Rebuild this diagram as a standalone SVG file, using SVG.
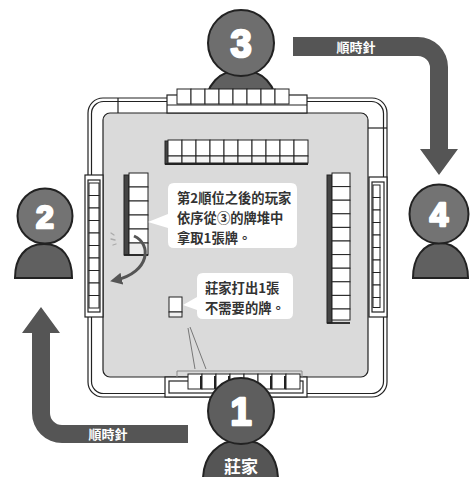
<svg xmlns="http://www.w3.org/2000/svg" width="471" height="477" viewBox="0 0 471 477">
  <defs>
    <style>
      .ln { stroke: #222; stroke-width: 1.2; }
      .tile { fill: #fff; stroke: #222; stroke-width: 1; }
      .edge { fill: #444; stroke: #222; stroke-width: 1; }
      .head { stroke: #222; stroke-width: 2; }
      .num { font-family: "Liberation Sans", Arial, sans-serif; font-weight: bold; fill: #fff; stroke: #fff; stroke-width: 2.5; stroke-linejoin: round; text-anchor: middle; }
      .cw { font-family: "Noto Sans CJK TC", "Noto Sans CJK SC", sans-serif; font-weight: bold; font-size: 13px; fill: #fff; text-anchor: middle; }
      .note { font-family: "Noto Sans CJK TC", "Noto Sans CJK SC", sans-serif; font-weight: bold; font-size: 13.3px; fill: #333; }
      .band { fill: #555; }
    </style>
    <marker id="ah" viewBox="0 0 10 10" refX="5" refY="5" markerWidth="4" markerHeight="4" orient="auto">
      <path d="M0,0 L10,5 L0,10 Z" fill="#555"/>
    </marker>
  </defs>

  <!-- clockwise arrows -->
  <g id="arrow-top">
    <path class="band" d="M293,37 H418 A30,30 0 0 1 448,67 V149 H458 L439,175 L420,149 H430 V68 A12,12 0 0 0 418,56 H293 Z"/>
    <text class="cw" x="356" y="52">順時針</text>
  </g>
  <g id="arrow-bottom">
    <path class="band" d="M41,307 L60,333 H50 V413 A12,12 0 0 0 62,425 H188 V443 H62 A30,30 0 0 1 32,413 V333 H22 Z"/>
    <text class="cw" x="108" y="439">順時針</text>
  </g>

  <!-- player 3 (behind the table) -->
  <g id="player3">
    <path class="head" fill="#606060" d="M205,110 C205,84 220,70 241,70 C262,70 277,84 277,110 Z"/>
    <circle class="head" cx="241" cy="43" r="33" fill="#6e6e6e"/>
    <text class="num" x="241" y="57" font-size="38">3</text>
  </g>

  <!-- table -->
  <g id="table">
    <rect x="88" y="98" width="299" height="299" rx="15" fill="#fff" class="ln" stroke-width="1.8"/>
    <rect x="91.5" y="101.5" width="292" height="292" rx="12" fill="none" class="ln" stroke-width="0.8"/>
    <rect x="103" y="113" width="265" height="264" rx="7" fill="#dadada" class="ln" stroke-width="1.6"/>
    <line x1="118" y1="98" x2="118" y2="113" class="ln"/>
    <line x1="368" y1="128" x2="387" y2="128" class="ln"/>
  </g>

  <!-- player racks -->
  <g id="rack-top">
    <rect x="167" y="95" width="140" height="18" fill="#fff" class="ln"/>
    <line x1="167" y1="105" x2="307" y2="105" class="ln" stroke-width="0.8"/>
    <rect class="tile" x="177" y="89" width="14" height="15"/>
    <rect class="tile" x="191" y="89" width="14" height="15"/>
    <rect class="tile" x="205" y="89" width="14" height="15"/>
    <rect class="tile" x="219" y="89" width="14" height="15"/>
    <rect class="tile" x="233" y="89" width="14" height="15"/>
    <rect class="tile" x="247" y="89" width="14" height="15"/>
    <rect class="tile" x="261" y="89" width="14" height="15"/>
    <rect class="tile" x="275" y="89" width="14" height="15"/>
  </g>

  <g id="rack-left">
    <rect x="85" y="175" width="18" height="142" fill="#fff" class="ln"/>
    <rect x="88" y="180" width="12" height="132" fill="#fff" class="ln" stroke-width="0.8"/>
    <g fill="#fff" stroke="#222" stroke-width="1">
      <rect x="89" y="183" width="10" height="12.5"/>
      <rect x="89" y="195.5" width="10" height="12.5"/>
      <rect x="89" y="208" width="10" height="12.5"/>
      <rect x="89" y="220.5" width="10" height="12.5"/>
      <rect x="89" y="233" width="10" height="12.5"/>
      <rect x="89" y="245.5" width="10" height="12.5"/>
      <rect x="89" y="258" width="10" height="12.5"/>
      <rect x="89" y="270.5" width="10" height="12.5"/>
      <rect x="89" y="283" width="10" height="12.5"/>
      <rect x="89" y="295.5" width="10" height="12.5"/>
    </g>
  </g>

  <g id="rack-right">
    <rect x="369" y="177" width="18" height="140" fill="#fff" class="ln"/>
    <rect x="372" y="182" width="12" height="130" fill="#fff" class="ln" stroke-width="0.8"/>
    <g fill="#fff" stroke="#222" stroke-width="1">
      <rect x="373" y="185" width="7" height="12.5"/>
      <rect x="373" y="197.5" width="7" height="12.5"/>
      <rect x="373" y="210" width="7" height="12.5"/>
      <rect x="373" y="222.5" width="7" height="12.5"/>
      <rect x="373" y="235" width="7" height="12.5"/>
      <rect x="373" y="247.5" width="7" height="12.5"/>
      <rect x="373" y="260" width="7" height="12.5"/>
      <rect x="373" y="272.5" width="7" height="12.5"/>
      <rect x="373" y="285" width="7" height="12.5"/>
      <rect x="373" y="297.5" width="7" height="10"/>
    </g>
  </g>

  <g id="rack-bottom">
    <rect x="165" y="377" width="142" height="20" fill="#fff" class="ln"/>
    <rect x="169" y="381" width="134" height="12" fill="#fff" class="ln" stroke-width="0.8"/>
    <g fill="#fff" stroke="#222" stroke-width="1">
      <rect x="188" y="374" width="14" height="15"/>
      <rect x="202" y="374" width="14" height="15"/>
      <rect x="216" y="374" width="14" height="15"/>
      <rect x="230" y="374" width="14" height="15"/>
      <rect x="244" y="374" width="14" height="15"/>
      <rect x="258" y="374" width="14" height="15"/>
      <rect x="272" y="374" width="14" height="15"/>
      <rect x="286" y="374" width="14" height="15"/>
    </g>
    <g stroke="#222" stroke-width="2">
      <line x1="201" y1="376" x2="201" y2="389"/>
      <line x1="215" y1="376" x2="215" y2="389"/>
      <line x1="229" y1="376" x2="229" y2="389"/>
      <line x1="271" y1="376" x2="271" y2="389"/>
      <line x1="285" y1="376" x2="285" y2="389"/>
    </g>
  </g>

  <!-- walls on the table -->
  <g id="wall-top">
    <rect x="165" y="141" width="4" height="23" class="edge"/>
    <g fill="#fff" stroke="#222" stroke-width="1">
      <rect x="168" y="140" width="14" height="16"/>
      <rect x="182" y="140" width="14" height="16"/>
      <rect x="196" y="140" width="14" height="16"/>
      <rect x="210" y="140" width="14" height="16"/>
      <rect x="224" y="140" width="14" height="16"/>
      <rect x="238" y="140" width="14" height="16"/>
      <rect x="252" y="140" width="14" height="16"/>
      <rect x="266" y="140" width="14" height="16"/>
      <rect x="280" y="140" width="14" height="16"/>
      <rect x="294" y="140" width="14" height="16"/>
    </g>
    <g fill="#f4f4f4" stroke="#222" stroke-width="1">
      <rect x="168" y="156" width="14" height="7"/>
      <rect x="182" y="156" width="14" height="7"/>
      <rect x="196" y="156" width="14" height="7"/>
      <rect x="210" y="156" width="14" height="7"/>
      <rect x="224" y="156" width="14" height="7"/>
      <rect x="238" y="156" width="14" height="7"/>
      <rect x="252" y="156" width="14" height="7"/>
      <rect x="266" y="156" width="14" height="7"/>
      <rect x="280" y="156" width="14" height="7"/>
      <rect x="294" y="156" width="14" height="7"/>
    </g>
    <line x1="165" y1="164" x2="308" y2="164" stroke="#222" stroke-width="2"/>
  </g>

  <g id="wall-left">
    <rect x="124" y="175" width="5" height="80" class="edge"/>
    <g fill="#fff" stroke="#222" stroke-width="1">
      <rect x="129" y="173" width="19" height="14"/>
      <rect x="129" y="187" width="19" height="14"/>
      <rect x="129" y="201" width="19" height="14"/>
      <rect x="129" y="215" width="19" height="14"/>
      <rect x="129" y="229" width="19" height="14"/>
      <rect x="129" y="243" width="19" height="12" fill="#ececec"/>
    </g>
    <line x1="124" y1="255" x2="148" y2="255" stroke="#222" stroke-width="1.8"/>
  </g>

  <g id="wall-right">
    <rect x="327" y="175" width="5" height="148" class="edge"/>
    <g fill="#fff" stroke="#222" stroke-width="1">
      <rect x="332" y="173" width="18" height="13.6"/>
      <rect x="332" y="186.6" width="18" height="13.6"/>
      <rect x="332" y="200.2" width="18" height="13.6"/>
      <rect x="332" y="213.8" width="18" height="13.6"/>
      <rect x="332" y="227.4" width="18" height="13.6"/>
      <rect x="332" y="241" width="18" height="13.6"/>
      <rect x="332" y="254.6" width="18" height="13.6"/>
      <rect x="332" y="268.2" width="18" height="13.6"/>
      <rect x="332" y="281.8" width="18" height="13.6"/>
      <rect x="332" y="295.4" width="18" height="13.6"/>
      <rect x="332" y="309" width="18" height="11"/>
    </g>
    <line x1="327" y1="323" x2="350" y2="323" stroke="#222" stroke-width="1.8"/>
  </g>

  <!-- discarded tile -->
  <g id="discard">
    <rect x="169" y="297" width="13" height="15" fill="#fff" stroke="#222" stroke-width="1"/>
    <rect x="169" y="312" width="13" height="5" fill="#f0f0f0" stroke="#222" stroke-width="1"/>
  </g>

  <!-- connectors -->
  <g id="connectors" fill="none">
    <path d="M134,236 C152,244 150,272 116,280" stroke="#555" stroke-width="3" marker-end="url(#ah)"/>
    <g stroke="#aaa" stroke-width="1.3" stroke-linecap="round">
      <line x1="111" y1="233" x2="114" y2="235"/>
      <line x1="111" y1="239" x2="115" y2="240"/>
      <line x1="113" y1="245" x2="116" y2="244"/>
    </g>
    <path d="M188,328 L195,369 M190,327 L206,369" stroke="#777" stroke-width="1"/>
    <path d="M177,377 V371 H302 V377" stroke="#888" stroke-width="1"/>
  </g>

  <!-- callouts -->
  <g id="note-draw">
    <path d="M174,183 H291 Q297,183 297,189 V242 Q297,248 291,248 H174 Q168,248 168,242 V228 L148,222 L168,214 V189 Q168,183 174,183 Z" fill="#fff"/>
    <text class="note" x="177" y="203">第2順位之後的玩家</text>
    <text class="note" x="177" y="223">依序從③的牌堆中</text>
    <text class="note" x="177" y="243">拿取1張牌。</text>
  </g>
  <g id="note-discard">
    <path d="M203,273 H287 Q293,273 293,279 V313 Q293,319 287,319 H203 Q197,319 197,313 V310 L183,305 L197,297 V279 Q197,273 203,273 Z" fill="#fff"/>
    <text class="note" x="205" y="293">莊家打出1張</text>
    <text class="note" x="205" y="312.5">不需要的牌。</text>
  </g>

  <!-- players -->
  <g id="player2">
    <path class="head" fill="#606060" d="M15,278 C15,258 25,244 44,244 C63,244 72,258 72,278 Z"/>
    <circle class="head" cx="45" cy="216" r="27.5" fill="#737373"/>
    <text class="num" x="45" y="228" font-size="32">2</text>
  </g>
  <g id="player4">
    <path class="head" fill="#606060" d="M413,278 C413,258 423,243 440,243 C457,243 468,258 468,278 Z"/>
    <circle class="head" cx="439" cy="214" r="29.5" fill="#737373"/>
    <text class="num" x="439" y="226" font-size="33">4</text>
  </g>
  <g id="player1">
    <path class="head" fill="#555" d="M203,480 C203,456 218,440 241,440 C264,440 278,456 278,480 Z"/>
    <circle class="head" cx="241" cy="411" r="33" fill="#5e5e5e"/>
    <text class="num" x="241" y="425" font-size="38">1</text>
    <text class="cw" x="241" y="473" style="font-size:17px">莊家</text>
  </g>
</svg>
